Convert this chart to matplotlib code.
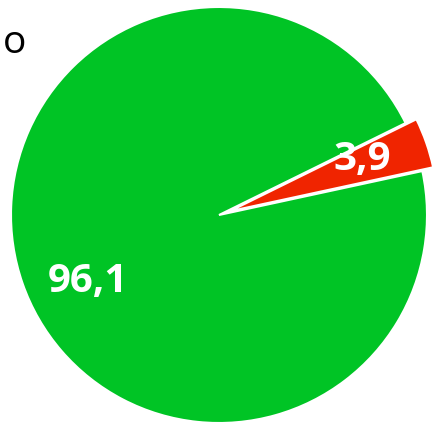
import matplotlib
matplotlib.use('Agg')
from matplotlib import pyplot as plt

# Chart data
labels = ['3,9', '96,1']
values = [3.9, 96.1]
colors = ['#F02400', '#00C425']
explode = [0.055, 0.0]

# Label positions (pie data coordinates, pie radius = 1)
label_xy = [(0.69, 0.265), (-0.63, -0.32)]

fig = plt.figure(figsize=(4.33, 4.25), dpi=100)

# Axes sized so the pie is centred at (219, 215) px with a radius of ~208 px
ax = fig.add_axes([11 / 433, 2 / 425, 416 / 433, 416 / 425])

wedges, texts = ax.pie(
    values,
    colors=colors,
    explode=explode,
    startangle=12.2,
    counterclock=True,
    radius=1.0,
    wedgeprops={'edgecolor': 'white', 'linewidth': 1.5, 'clip_on': False},
)

# Value labels inside the slices
for (x, y), lab in zip(label_xy, labels):
    ax.text(x, y, lab, ha='center', va='center', color='white',
            fontsize=29, fontweight='bold', family='Open Sans')

ax.set_xlim(-1, 1)
ax.set_ylim(-1, 1)
ax.set_aspect('auto')
ax.axis('off')

# Cut-off text at top left
fig.text(3 / 433, 1 - 43 / 425, 'o', ha='left', va='center',
         fontsize=28, color='black', family='Open Sans', fontweight='medium')

fig.savefig('out.png', dpi=100)
